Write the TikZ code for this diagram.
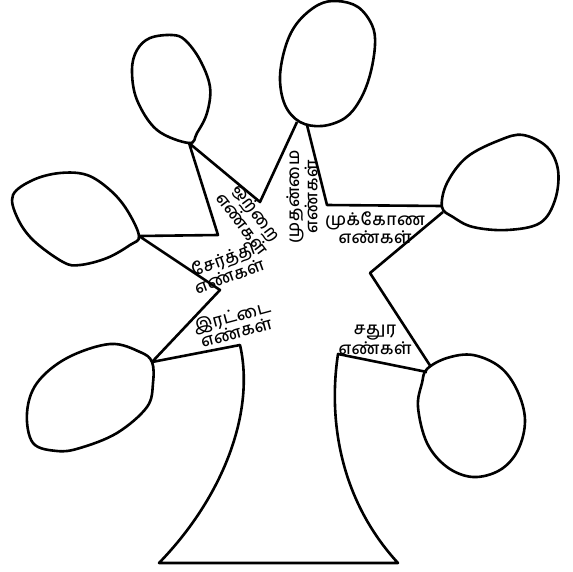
\documentclass[tikz,border=0pt]{standalone}
\usepackage{fontspec}
\newfontfamily\tamilfont[Script=Tamil,UprightFont=* Medium,LetterSpace=3]{Hind Madurai}
\begin{document}
\begin{tikzpicture}[x=1pt,y=-1pt,
	outline/.style={line width=2.6pt,line join=round},
	leaf/.style={line width=2.6pt,smooth cycle,tension=0.6},
	label/.style={font=\tamilfont\fontsize{17}{16.5}\selectfont,align=center,inner sep=0pt}]
	\useasboundingbox (0,0) rectangle (573,571);
	% leaves
	\draw [leaf] plot coordinates {(189,143) (157,130) (137,100) (132,70) (137,50) (150,38) (172,35) (185,40) (200,60) (210,87) (207,113) (197,133)};
	\draw [leaf] plot coordinates {(300,122) (285,105) (280,77) (286,45) (298,22) (318,5) (337,1) (358,7) (372,25) (375,45) (370,75) (360,100) (345,118) (322,126)};
	\draw [leaf] plot coordinates {(442,207) (447,183) (467,157) (500,140) (523,135) (547,147) (558,170) (555,200) (540,223) (507,230) (473,227) (453,217)};
	\draw [leaf] plot coordinates {(427,369) (447,358) (473,355) (500,367) (517,390) (525,420) (518,450) (500,470) (473,477) (447,467) (427,443) (418,407) (422,383)};
	\draw [leaf] plot coordinates {(139,236) (127,210) (110,190) (87,175) (60,173) (33,180) (13,195) (17,217) (33,240) (63,262) (80,265) (107,258) (130,245)};
	\draw [leaf] plot coordinates {(152,362) (153,383) (147,407) (117,433) (80,448) (57,451) (33,443) (27,413) (37,383) (67,358) (110,344) (140,352)};
	% trunk and branches
	\draw [outline] (297,122)-- (260,202)-- (189,143)-- (218,235)-- (139,236)-- (220,290)-- (152,362)-- (240,345)
		.. controls (255,410) and (225,495) .. (159,563)-- (398,563)
		.. controls (340,500) and (328,420) .. (338,354)-- (427,372);
	\draw [outline] (307,125)-- (327,205)-- (442,206);
	\draw [outline] (443,212)-- (370,273)-- (431,367);
	% labels
	\node [label,rotate=90] (prime) at (302,197) {முதன்மை\\எண்கள்};
	\node [label] (triangle) at (375,228) {முக்கோண\\எண்கள்};
	\node [label] (square) at (375,340) {சதுர\\எண்கள்};
	\node [label,rotate=-53] (odd) at (250,218) {ஒற்றை\\எண்கள்};
	\node [label,rotate=20] (composite) at (226,267) {சேர்த்தி\\எண்கள்};
	\node [label,rotate=15] (even) at (234,324) {இரட்டை\\எண்கள்};
\end{tikzpicture}
\end{document}
